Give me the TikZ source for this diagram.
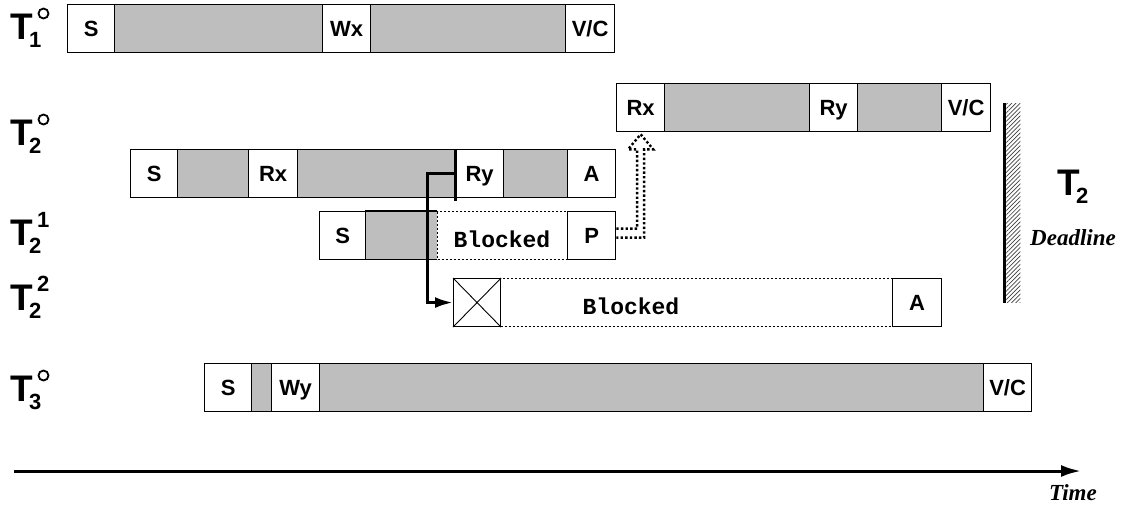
\documentclass[tikz,border=0pt]{standalone}
\usepackage{fontspec}
\setmainfont{Liberation Sans}
\setmonofont{Liberation Mono}
\newfontfamily\timesf{Liberation Serif}
\usetikzlibrary{calc,arrows.meta,patterns.meta}
\definecolor{boxgray}{RGB}{190,190,190}
\newcommand\cellfont{\fontsize{22}{26}\selectfont\bfseries}
\newcommand\bigTfont{\fontsize{37}{40}\selectfont\bfseries}
\newcommand\idxfont{\fontsize{22}{24}\selectfont\bfseries}
\newcommand\blkfont{\fontsize{23}{26}\selectfont\ttfamily\bfseries}
\newcommand\notefont{\fontsize{23}{26}\selectfont\timesf\bfseries\itshape}
\begin{document}
\begin{tikzpicture}[x=1pt,y=-1pt,
 cell/.style={draw, line width=1.3pt, fill=white, minimum height=48pt, inner sep=0pt,
   anchor=north west, font=\cellfont, text height=16pt, text depth=0pt},
 busy/.style={cell, fill=boxgray},
 busyfill/.style={fill=boxgray, minimum height=48pt, inner sep=0pt, anchor=north west},
 border/.style={line width=1.3pt},
 blockbox/.style={draw, line width=1.1pt, dash pattern=on 2pt off 2pt,
   minimum height=48pt, inner sep=0pt, anchor=north west},
 blk/.style={font=\blkfont, inner sep=0pt},
 tT/.style={font=\bigTfont, inner sep=0pt, anchor=base west},
 tidx/.style={font=\idxfont, inner sep=0pt, anchor=base west},
 ring/.style={line width=1.8pt},
 thickline/.style={line width=3pt},
 hollowarrow/.style={line width=2.4pt, dash pattern=on 2.4pt off 2.2pt, line join=miter},
]
\useasboundingbox (0,0) rectangle (1122,504);

% ---------- T1 ----------
\node[cell,minimum width=47pt] (s1) at (67,4) {S};
\node[busy,minimum width=208pt] (g11) at (114,4) {};
\node[cell,minimum width=48pt] (wx1) at (322,4) {Wx};
\node[busy,minimum width=195pt] (g12) at (370,4) {};
\node[cell,minimum width=49pt] (vc1) at (565,4) {V/C};

% ---------- T2 (upper, restarted) ----------
\node[cell,minimum width=48pt] (rx2) at (616,83) {Rx};
\node[busy,minimum width=145pt] (g21) at (664,83) {};
\node[cell,minimum width=48pt] (ry2) at (809,83) {Ry};
\node[busy,minimum width=84pt] (g22) at (857,83) {};
\node[cell,minimum width=49pt] (vc2) at (941,83) {V/C};

% ---------- T2 (lower) ----------
\node[cell,minimum width=47pt] (s3) at (130,149) {S};
\node[busy,minimum width=71pt] (g31) at (177,149) {};
\node[cell,minimum width=49pt] (rx3) at (248,149) {Rx};
\node[busy,minimum width=158pt] (g32) at (297,149) {};
\node[cell,minimum width=48pt] (ry3) at (455,149) {Ry};
\node[busy,minimum width=64pt] (g33) at (503,149) {};
\node[cell,minimum width=48pt] (a3) at (567,149) {A};

% ---------- T2^1 ----------
\node[busyfill,minimum width=72pt] (g41) at (365,211) {};
\draw[border] (g41.north east) -- (g41.north west) (g41.south west) -- (g41.south east);
\node[blockbox,minimum width=130pt] (bb4) at (437,211) {};
\node[cell,minimum width=46pt] (s4) at (319,211) {S};
\node[cell,minimum width=48pt] (p4) at (567,211) {P};
\node[blk] (bt4) at (502,239) {Blocked};

% ---------- T2^2 ----------
\node[blockbox,minimum width=392pt] (bb5) at (500,278) {};
\node[cell,minimum width=47pt,line width=1.1pt] (x5) at (453,278) {};
\draw[line width=0.9pt] (x5.north west) -- (x5.south east) (x5.north east) -- (x5.south west);
\node[cell,minimum width=49pt] (a5) at (892,278) {A};
\node[blk] (bt5) at (631,306) {Blocked};

% ---------- T3 ----------
\node[cell,minimum width=47pt] (s6) at (204,363) {S};
\node[busy,minimum width=20pt] (g61) at (251,363) {};
\node[cell,minimum width=48pt] (wy6) at (271,363) {Wy};
\node[busy,minimum width=664pt] (g62) at (319,363) {};
\node[cell,minimum width=48pt] (vc6) at (983,363) {V/C};

% ---------- connectors ----------
\draw[thickline] (ry3.north west) -- ($(ry3.south west)+(0,3)$);
\draw[thickline,-{Latex[length=18pt,width=11pt]}] (ry3.west) -- ++(-28,0) |- (x5.west);

\coordinate (pa) at ($(p4.east)+(0,-7)$);
\coordinate (pb) at ($(p4.east)+(0,2)$);
\draw[hollowarrow] (pa) -| ($(rx2.south)+(-3.5,17)$) -- ++(-9,0)
   -- ($(rx2.south)+(0,2)$) -- ($(rx2.south)+(12.5,17)$) -- ++(-9,0) |- (pb);

% ---------- deadline ----------
\node[minimum width=16pt, minimum height=199pt, inner sep=0pt, anchor=north west,
  pattern={Lines[angle=45,distance=3pt,line width=0.7pt]}, pattern color=black!75] (dead) at (1004,103) {};
\draw[thickline] (dead.north west) -- (dead.south west);

% ---------- labels ----------
\node[tT] (L1) at (10,39) {T};
\node[tidx] (L1s) at ($(L1.base east)+(-4,8)$) {1};
\draw[ring] ($(L1.base east)+(10.5,-25.5)$) circle[radius=5pt];

\node[tT] (L2) at (10,145) {T};
\node[tidx] (L2s) at ($(L2.base east)+(-4,8)$) {2};
\draw[ring] ($(L2.base east)+(10.5,-25.5)$) circle[radius=5pt];

\node[tT] (L3) at (10,245) {T};
\node[tidx] (L3s) at ($(L3.base east)+(-4,8)$) {2};
\node[tidx] (L3p) at ($(L3.base east)+(4,-18)$) {1};

\node[tT] (L4) at (10,310) {T};
\node[tidx] (L4s) at ($(L4.base east)+(-4,8)$) {2};
\node[tidx] (L4p) at ($(L4.base east)+(4,-19)$) {2};

\node[tT] (L5) at (10,401) {T};
\node[tidx] (L5s) at ($(L5.base east)+(-4,8)$) {3};
\draw[ring] ($(L5.base east)+(10.5,-25.5)$) circle[radius=5pt];

\node[tT] (L6) at (1057,195) {T};
\node[tidx] (L6s) at ($(L6.base east)+(-4,8)$) {2};

\node[font=\notefont, anchor=base west, inner sep=0pt] (dl) at (1030,245) {Deadline};

% ---------- time axis ----------
\coordinate (t0) at (14,471);
\coordinate (t1) at (1081,471);
\draw[thickline,-{Latex[length=20pt,width=12pt]}] (t0) -- (t1);
\node[font=\notefont, anchor=base east, inner sep=0pt] (tm) at (1097,500) {Time};
\end{tikzpicture}
\end{document}
